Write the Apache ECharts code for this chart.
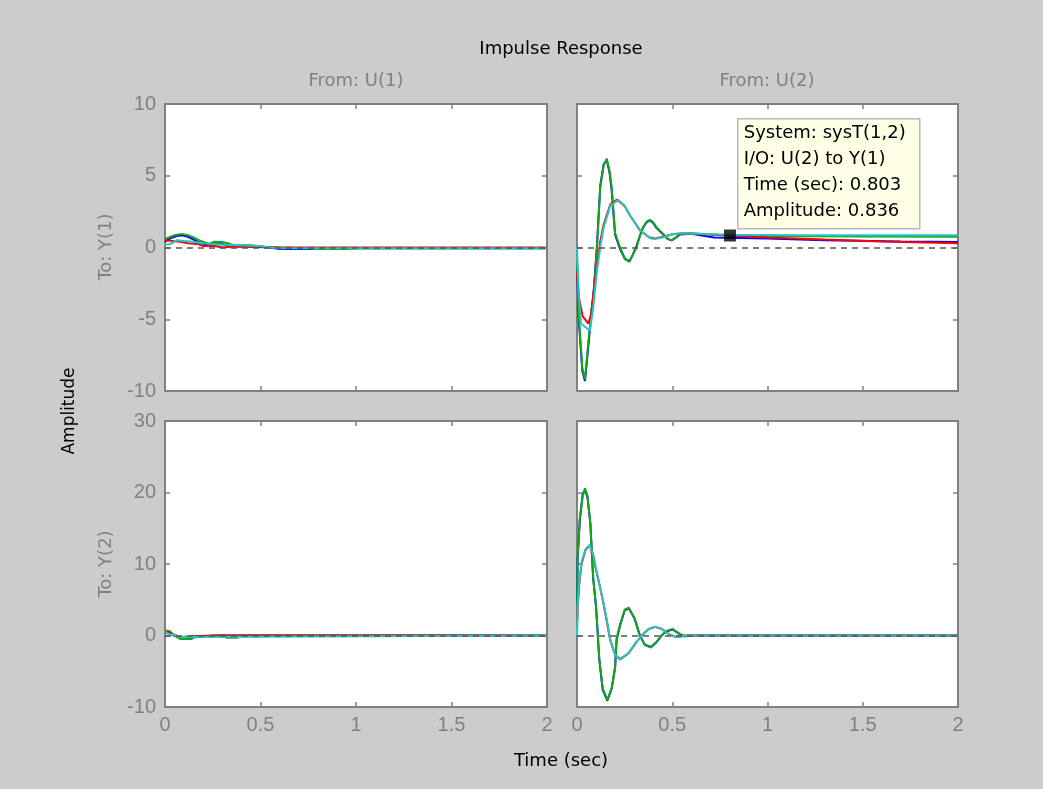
<!DOCTYPE html>
<html>
<head>
<meta charset="UTF-8">
<script src="https://cdn.jsdelivr.net/npm/echarts@6.0.0/dist/echarts.min.js"></script>
<style>
html, body { margin: 0; padding: 0; background: #cccccc; }
#chart { width: 1043px; height: 789px; }
</style>
</head>
<body>
<div id="chart"></div>
<script>
// ---------- data (time in sec, amplitude) ----------

const timeTicks = [0, 0.5, 1, 1.5, 2];

// From U(1) to Y(1)
const blue11 = [[0,0.4],[0.03,0.65],[0.06,0.8],[0.09,0.85],[0.12,0.75],[0.15,0.55],[0.18,0.35],[0.21,0.2],[0.25,0.25],[0.3,0.22],[0.35,0.1],[0.45,0.05],[0.55,0],[0.6,-0.1],[0.77,-0.1],[0.8,-0.05],[2,-0.05]];
const green11 = [[0,0.6],[0.02,0.7],[0.05,0.85],[0.087,0.95],[0.12,0.85],[0.15,0.7],[0.18,0.5],[0.21,0.35],[0.23,0.25],[0.26,0.4],[0.3,0.38],[0.33,0.3],[0.36,0.15],[0.45,0.15],[0.48,0.1],[0.52,0.05],[0.6,0],[0.77,-0.05],[0.8,-0.1],[0.95,-0.1],[1.0,-0.05],[2,-0.05]];
const red11 = [[0,0.5],[0.04,0.45],[0.08,0.4],[0.12,0.3],[0.17,0.25],[0.2,0.1],[0.26,0.1],[0.3,0],[0.35,0.05],[0.5,0.05],[0.55,0],[2,0]];
const cyan11 = [[0,0.2],[0.03,0.25],[0.06,0.5],[0.1,0.45],[0.15,0.4],[0.2,0.3],[0.25,0.25],[0.3,0.2],[0.4,0.15],[0.5,0.1],[0.55,0],[0.6,-0.05],[2,-0.05]];

// From U(2) to Y(1)
const blue12 = [[0,-1.3],[0.01,-5.2],[0.028,-8.6],[0.042,-9.3],[0.06,-6.8],[0.075,-4.6],[0.088,-3.0],[0.105,0.2],[0.122,4.3],[0.14,5.8],[0.156,6.1],[0.17,5.3],[0.182,4.0],[0.2,0.9],[0.226,-0.1],[0.252,-0.8],[0.275,-0.95],[0.29,-0.6],[0.312,0.1],[0.33,0.8],[0.347,1.4],[0.365,1.75],[0.383,1.9],[0.4,1.7],[0.418,1.35],[0.453,0.9],[0.475,0.6],[0.497,0.5],[0.52,0.7],[0.54,0.9],[0.6,0.95],[0.72,0.7],[1.0,0.62],[1.3,0.5],[1.7,0.42],[2,0.38]];
const green12 = [[0,-1],[0.01,-4.9],[0.028,-8.4],[0.042,-9.2],[0.06,-6.5],[0.075,-4.5],[0.088,-3.1],[0.105,0],[0.122,4.2],[0.14,5.7],[0.156,6.2],[0.17,5.4],[0.182,4.2],[0.2,1],[0.226,0],[0.252,-0.8],[0.275,-1],[0.29,-0.6],[0.312,0],[0.33,0.8],[0.347,1.4],[0.365,1.8],[0.383,1.93],[0.4,1.75],[0.418,1.4],[0.453,0.95],[0.475,0.6],[0.497,0.5],[0.52,0.7],[0.54,0.95],[0.6,0.98],[0.7,0.9],[0.8,0.84],[1.0,0.8],[1.5,0.76],[2,0.75]];
const red12 = [[0,-1.7],[0.01,-3.5],[0.03,-4.8],[0.06,-5.3],[0.075,-4.6],[0.09,-2.8],[0.105,-1.2],[0.122,0.4],[0.14,1.6],[0.175,3.0],[0.21,3.35],[0.25,2.9],[0.28,2.2],[0.33,1.2],[0.38,0.7],[0.41,0.62],[0.45,0.75],[0.5,0.92],[0.55,0.98],[0.6,0.97],[0.8,0.84],[1.0,0.7],[1.3,0.55],[1.6,0.42],[2,0.3]];
const cyan12 = [[0,0],[0.008,-3],[0.02,-5.3],[0.04,-5.5],[0.068,-5.8],[0.085,-4.2],[0.105,-1.6],[0.122,0],[0.14,1.4],[0.175,2.9],[0.217,3.32],[0.25,2.9],[0.28,2.2],[0.332,1.2],[0.385,0.65],[0.41,0.6],[0.45,0.7],[0.5,0.92],[0.55,1.0],[0.6,0.98],[0.8,0.88],[1.2,0.86],[2,0.85]];

// From U(1) to Y(2)
const blue21 = [[0,0.5],[0.02,0.4],[0.045,0],[0.08,-0.3],[0.14,-0.3],[0.2,-0.1],[0.3,0],[2,0]];
const green21 = [[0,0.7],[0.01,0.8],[0.025,0.6],[0.04,0.2],[0.06,-0.1],[0.08,-0.5],[0.14,-0.5],[0.15,-0.1],[0.23,-0.1],[0.25,0],[0.31,0],[0.32,-0.3],[0.38,-0.3],[0.39,0],[2,0]];
const red21 = [[0,0.3],[0.02,0.5],[0.04,0.2],[0.08,-0.2],[0.15,-0.1],[0.25,0],[2,0]];
const cyan21 = [[0,0.5],[0.02,0.2],[0.06,0],[0.08,-0.2],[0.15,-0.2],[0.16,0],[2,0]];

// From U(2) to Y(2)
const blue22 = [[0,0],[0.003,10.5],[0.015,16.2],[0.03,19.8],[0.042,20.4],[0.055,19.3],[0.07,15.7],[0.085,8],[0.1,4.0],[0.117,-3.4],[0.135,-7.6],[0.159,-9.1],[0.182,-7.4],[0.2,-4.5],[0.208,-0.6],[0.226,1.4],[0.25,3.5],[0.272,3.8],[0.302,2.4],[0.33,0],[0.356,-1.3],[0.388,-1.6],[0.418,-0.9],[0.444,0],[0.47,0.6],[0.502,0.85],[0.54,0.2],[0.56,-0.1],[0.6,0],[2,0]];
const green22 = [[0,0],[0.003,11],[0.015,16.4],[0.03,19.5],[0.042,20.6],[0.055,19.5],[0.07,15.7],[0.085,8],[0.1,4.0],[0.117,-3.2],[0.135,-7.4],[0.159,-9],[0.182,-7.4],[0.2,-4.5],[0.208,-0.4],[0.226,1.5],[0.25,3.6],[0.272,3.9],[0.302,2.4],[0.33,0],[0.356,-1.3],[0.388,-1.7],[0.418,-0.9],[0.444,0],[0.47,0.65],[0.502,0.9],[0.54,0.2],[0.56,-0.1],[0.65,0],[2,0]];
const red22 = [[0,2],[0.005,4.5],[0.012,7.2],[0.024,10],[0.045,12],[0.068,12.6],[0.085,11.2],[0.103,8.8],[0.12,6.9],[0.138,4.6],[0.155,2.2],[0.173,-0.5],[0.2,-2.7],[0.226,-3.3],[0.27,-2.5],[0.313,-0.9],[0.34,0],[0.376,0.9],[0.41,1.2],[0.446,0.9],[0.481,0.2],[0.516,-0.2],[0.55,0],[2,0]];
const cyan22 = [[0,0],[0.003,4],[0.01,7],[0.024,10.3],[0.045,12.1],[0.068,12.7],[0.085,11.3],[0.103,8.9],[0.12,6.8],[0.138,4.7],[0.155,2.4],[0.173,-0.4],[0.2,-2.7],[0.226,-3.4],[0.27,-2.5],[0.313,-0.9],[0.34,0],[0.376,0.9],[0.41,1.2],[0.446,0.9],[0.481,0.2],[0.516,-0.2],[0.54,-0.2],[0.57,0],[2,0]];

// data tip on sysT(1,2)
const tipTime = 0.803;
const tipAmp = 0.836;

// ---------- layout ----------

const COLORS = { blue: '#0000ff', green: '#14a814', red: '#ff0000', cyan: '#1ec8c8' };
const GRAY = '#808080';

const PANELS = [
    { left: 165, top: 104, width: 382, height: 287, yMin: -10, yMax: 10, yStep: 5, showX: false, showY: true,
      lines: [blue11, green11, red11, cyan11] },
    { left: 577, top: 104, width: 381, height: 287, yMin: -10, yMax: 10, yStep: 5, showX: false, showY: false,
      lines: [blue12, green12, red12, cyan12] },
    { left: 165, top: 421, width: 382, height: 286, yMin: -10, yMax: 30, yStep: 10, showX: true, showY: true,
      lines: [blue21, green21, red21, cyan21] },
    { left: 577, top: 421, width: 381, height: 286, yMin: -10, yMax: 30, yStep: 10, showX: true, showY: false,
      lines: [blue22, green22, red22, cyan22] }
];

const tickFont = { color: GRAY, fontFamily: 'Liberation Sans', fontSize: 20 };
const edge = {
    axisLine: { show: true, onZero: false, lineStyle: { color: GRAY, width: 2 } },
    axisTick: { show: true, inside: true, length: 5, lineStyle: { color: GRAY, width: 1.5 } },
    splitLine: { show: false }
};

const grid = [], xAxis = [], yAxis = [], series = [];

PANELS.forEach((p, i) => {

    grid.push({
        left: p.left, top: p.top, width: p.width, height: p.height,
        show: true, backgroundColor: '#ffffff', borderWidth: 0,
        containLabel: false, outerBoundsMode: 'none'
    });

    xAxis.push(Object.assign({}, edge, {
        gridIndex: i, type: 'value', position: 'bottom', min: timeTicks[0], max: timeTicks[timeTicks.length - 1], interval: 0.5,
        axisLabel: Object.assign({ show: p.showX, margin: 8, showMinLabel: true, showMaxLabel: true }, tickFont)
    }));
    xAxis.push(Object.assign({}, edge, {
        gridIndex: i, type: 'value', position: 'top', min: 0, max: 2, interval: 0.5,
        axisLabel: { show: false }
    }));

    yAxis.push(Object.assign({}, edge, {
        gridIndex: i, type: 'value', position: 'left', min: p.yMin, max: p.yMax, interval: p.yStep,
        axisLabel: Object.assign({ show: p.showY, margin: 9, showMinLabel: true, showMaxLabel: true }, tickFont)
    }));
    yAxis.push(Object.assign({}, edge, {
        gridIndex: i, type: 'value', position: 'right', min: p.yMin, max: p.yMax, interval: p.yStep,
        axisLabel: { show: false }
    }));

    const names = ['blue', 'green', 'red', 'cyan'];
    p.lines.forEach((data, k) => {
        const s = {
            type: 'line', xAxisIndex: i * 2, yAxisIndex: i * 2,
            data: data, symbol: 'none', clip: true,
            lineStyle: { color: COLORS[names[k]], width: 2 },
            itemStyle: { color: COLORS[names[k]] }
        };
        if (k === 0) {
            s.markLine = {
                silent: true, symbol: ['none', 'none'], label: { show: false },
                lineStyle: { color: '#555555', type: [6, 5], width: 1.5 },
                data: [{ yAxis: 0 }]
            };
        }
        series.push(s);
    });

});

// data tip marker
series.push({
    type: 'scatter', xAxisIndex: 2, yAxisIndex: 2, z: 10,
    data: [[tipTime, tipAmp]], symbol: 'rect', symbolSize: 12,
    itemStyle: { color: '#000000' }
});

const labelFont = '18px "DejaVu Sans"';

function txt(text, x, y, color, rotate) {
    return {
        type: 'text', x: x, y: y, rotation: rotate ? Math.PI / 2 : 0, silent: true,
        style: { text: text, fill: color, font: labelFont, align: 'center', verticalAlign: 'middle' }
    };
}

const tipLines = [
    'System: sysT(1,2)',
    'I/O: U(2) to Y(1)',
    'Time (sec): ' + tipTime,
    'Amplitude: ' + tipAmp
];

const graphic = [
    txt('Impulse Response', 561, 49, '#000000'),
    txt('From: U(1)', 356, 81, GRAY),
    txt('From: U(2)', 767, 81, GRAY),
    txt('To: Y(1)', 106, 247, GRAY, true),
    txt('To: Y(2)', 106, 564, GRAY, true),
    {
        type: 'text', x: 70, y: 411, rotation: Math.PI / 2, silent: true,
        style: { text: 'Amplitude', fill: '#000000', font: '17px "DejaVu Sans"', align: 'center', verticalAlign: 'middle' }
    },
    txt('Time (sec)', 561, 761, '#000000'),
    {
        type: 'group', left: 737, top: 118, z: 20,
        children: [
            { type: 'rect', shape: { x: 0, y: 0, width: 182, height: 110 },
              style: { fill: '#ffffe6', stroke: '#b8b8b8', lineWidth: 1.5 } },
            { type: 'text', x: 6, y: 2,
              style: { text: tipLines.join('\n'), fill: '#000000', font: labelFont, lineHeight: 26 } }
        ]
    }
];

const chart = echarts.init(document.getElementById('chart'), null, { renderer: 'canvas' });

chart.setOption({
    animation: false,
    backgroundColor: '#cccccc',
    grid: grid,
    xAxis: xAxis,
    yAxis: yAxis,
    series: series,
    graphic: graphic
});
</script>
</body>
</html>
